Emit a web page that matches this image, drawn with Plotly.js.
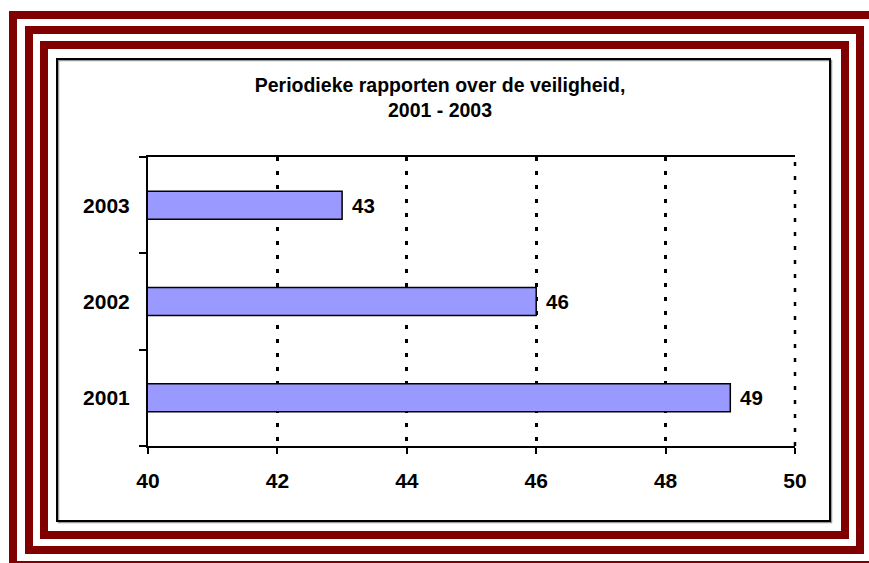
<!DOCTYPE html>
<html>
<head>
<meta charset="utf-8">
<script src="https://cdn.plot.ly/plotly-3.0.1.min.js"></script>
<style>
  html, body { margin: 0; padding: 0; background: #ffffff; }
  #chart { width: 869px; height: 563px; }
</style>
</head>
<body>
<div id="chart"></div>
<script>
// Reports per year
const years = ['2001', '2002', '2003'];
const reports = [49, 46, 43];
const titleLines = ['Periodieke rapporten over de veiligheid,', '2001 - 2003'];
const xMin = 40, xMax = 50, xStep = 2;

const W = 869, H = 563;
const M = { l: 148, r: 74, t: 157, b: 117 };
const plotW = W - M.l - M.r, plotH = H - M.t - M.b;
// page pixel -> paper coordinate (paper spans the plot area)
const px = x => (x - M.l) / plotW;
const py = y => (H - M.b - y) / plotH;

const FONT = '"Liberation Sans", Arial, Helvetica, sans-serif';
const MAROON = '#800000';
const GRID_DASH = '4px,10px';

function frameRect(x0, y0, x1, y1, color, width) {
  return {
    type: 'rect', xref: 'paper', yref: 'paper', layer: 'below',
    x0: px(x0), x1: px(x1), y0: py(y1), y1: py(y0),
    line: { color: color, width: width }, fillcolor: 'rgba(0,0,0,0)'
  };
}

const shapes = [
  frameRect(13, 15, 875, 565, MAROON, 8),
  frameRect(29, 30, 860, 550, MAROON, 8),
  frameRect(44, 45, 845, 535, MAROON, 8),
  frameRect(58.5, 60.5, 831.5, 522.5, '#9a9a9a', 1.5),
  frameRect(57, 59, 830, 521, '#000000', 2),
  // dotted grid line on the right edge of the plot (x = xMax)
  {
    type: 'line', xref: 'paper', yref: 'paper', layer: 'above',
    x0: 1, x1: 1, y0: 0, y1: 1,
    line: { color: '#000000', width: 2.5, dash: GRID_DASH }
  }
];

// value labels next to each bar end (category axis: position by index)
const labels = years.map((y, i) => ({
  x: reports[i], y: i, xref: 'x', yref: 'y',
  text: String(reports[i]), showarrow: false,
  xanchor: 'left', yanchor: 'middle', xshift: 8,
  font: { family: FONT, size: 20.5, weight: 700, color: '#000000' }
}));

const trace = {
  type: 'bar', orientation: 'h',
  x: reports, y: years,
  width: 0.29,
  marker: { color: '#9999ff', line: { color: '#000000', width: 1.5 } },
  hoverinfo: 'x+y'
};

const layout = {
  width: W, height: H,
  margin: M,
  paper_bgcolor: '#ffffff', plot_bgcolor: '#ffffff',
  showlegend: false,
  font: { family: FONT, color: '#000000' },
  title: {
    text: titleLines.join('<br>'),
    x: 440 / W, xanchor: 'center', xref: 'container',
    y: 1 - 92 / H, yanchor: 'top', yref: 'container',
    font: { family: FONT, size: 19.5, weight: 700, color: '#000000' }
  },
  xaxis: {
    range: [xMin, xMax], dtick: xStep, tick0: xMin,
    showline: true, linecolor: '#000000', linewidth: 2, mirror: true,
    ticks: 'outside', ticklen: 6, tickwidth: 2, tickcolor: '#000000',
    showgrid: true, gridcolor: '#000000', gridwidth: 2.5, griddash: GRID_DASH,
    zeroline: false, fixedrange: true,
    ticklabelstandoff: 9,
    tickfont: { family: FONT, size: 21, weight: 700, color: '#000000' }
  },
  yaxis: {
    type: 'category', categoryorder: 'array', categoryarray: years,
    range: [-0.5, years.length - 0.5], autorange: false,
    showline: true, linecolor: '#000000', linewidth: 2,
    ticks: 'outside', tickson: 'boundaries', ticklen: 7, tickwidth: 2, tickcolor: '#000000',
    showgrid: false, zeroline: false, fixedrange: true,
    ticklabelstandoff: 12,
    tickfont: { family: FONT, size: 21, weight: 700, color: '#000000' }
  },
  shapes: shapes,
  annotations: labels
};

Plotly.newPlot('chart', [trace], layout, { displayModeBar: false });
</script>
</body>
</html>
